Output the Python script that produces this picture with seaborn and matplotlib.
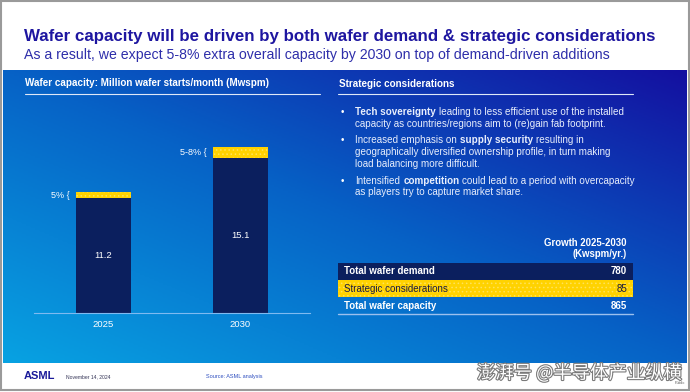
import numpy as np
import pandas as pd
import matplotlib
matplotlib.use('Agg')
import matplotlib.pyplot as plt
import seaborn as sns
from matplotlib.patches import Rectangle
from matplotlib.colors import LinearSegmentedColormap
import matplotlib.patheffects as pe

# data
years = ['2025', '2030']
demand = [11.2, 15.1]          # Mwspm, demand-driven
strategic = [0.56, 1.05]       # extra capacity from strategic considerations
strategic_labels = ['5%', '5-8%']

table_rows = ['Total wafer demand', 'Strategic considerations', 'Total wafer capacity']
table_values = [780, 85, 865]

# each bullet = list of lines, each line = list of (text, bold)
bullets = [
    [[('Tech sovereignty', True), ('leading to less efficient use of the installed', False)],
     [('capacity as countries/regions aim to (re)gain fab footprint.', False)]],
    [[('Increased emphasis on', False), ('supply security', True), ('resulting in', False)],
     [('geographically diversified ownership profile, in turn making', False)],
     [('load balancing more difficult.', False)]],
    [[('Intensified', False), ('competition', True), ('could lead to a period with overcapacity', False)],
     [('as players try to capture market share.', False)]],
]

sns.set_theme(style='white')
plt.rcParams['font.family'] = ['Liberation Sans', 'DejaVu Sans']
plt.rcParams['hatch.linewidth'] = 0.6

navy = '#0b1f5e'
yellow = '#ffd200'
title_col = '#1e16a0'

W, H = 690, 392
fig = plt.figure(figsize=(6.9, 3.92), dpi=100)
bg = fig.add_axes([0, 0, 1, 1])
bg.set_xlim(0, W)
bg.set_ylim(H, 0)
bg.axis('off')

# blue gradient panel
top, bot, left, right = 70, 363, 3, 687
xx, yy = np.meshgrid(np.linspace(0, 1, 300), np.linspace(1, 0, 150))
t = 0.5 * xx + 0.5 * yy
grad = LinearSegmentedColormap.from_list('g', ['#08a2e2', '#0662c6', '#1410a0'])
bg.imshow(t, cmap=grad, extent=(left, right, bot, top), aspect='auto', vmin=0, vmax=1, zorder=0)
bg.set_xlim(0, W)
bg.set_ylim(H, 0)

# header
bg.text(24, 36, 'Wafer capacity will be driven by both wafer demand & strategic considerations',
        fontsize=12.2, fontweight='bold', color=title_col, va='center')
bg.text(24, 55, 'As a result, we expect 5-8% extra overall capacity by 2030 on top of demand-driven additions',
        fontsize=10.2, color='#2e2eaa', va='center')

# panel headers
bg.text(25, 83, 'Wafer capacity: Million wafer starts/month (Mwspm)', fontsize=7.1,
        fontweight='bold', color='white', va='center')
bg.plot([25, 320], [94, 94], color='#dfe8f8', lw=0.8)
bg.text(339, 84, 'Strategic considerations', fontsize=7.1, fontweight='bold', color='white', va='center')
bg.plot([338, 633], [94, 94], color='#dfe8f8', lw=0.8)

# bullets with bold runs
r = fig.canvas.get_renderer()
fs = 7.1
gap = fs * 100 / 72 * 0.32
y = 115
for bl in bullets:
    bg.text(341, y, '•', fontsize=fs, color='white', va='baseline')
    for line in bl:
        x = 355
        for txt, bold in line:
            tt = bg.text(x, y, txt, fontsize=fs, color='#e8eefc', va='baseline',
                         fontweight='bold' if bold else 'normal')
            x += tt.get_window_extent(r).width + gap
        y += 11.7
    y += 5

# table
bg.text(627, 243, 'Growth 2025-2030', fontsize=6.9, fontweight='bold', color='white', ha='right', va='center')
bg.text(627, 254, '(Kwspm/yr.)', fontsize=6.9, fontweight='bold', color='white', ha='right', va='center')
bg.add_patch(Rectangle((338, 263), 295, 16.5, facecolor=navy, edgecolor='none'))
bg.add_patch(Rectangle((338, 280), 295, 17, facecolor=yellow, edgecolor='#ffe25a', lw=0, hatch='....'))
row_y = [271, 288.5, 306]
row_style = [('white', 'bold'), ('#1a1a40', 'normal'), ('white', 'bold')]
for (lab, val), ry, (c, w) in zip(zip(table_rows, table_values), row_y, row_style):
    bg.text(344, ry, lab, fontsize=7, color=c, fontweight=w, va='center')
    bg.text(627, ry, str(val), fontsize=7, color=c, fontweight='bold' if w == 'bold' else 'normal',
            ha='right', va='center')
bg.plot([338, 633], [314, 314], color='#9cc0ee', lw=1)

# footer
bg.text(24, 376, 'ASML', fontsize=8, fontweight='bold', color='#1a1a9a', va='center')
bg.text(66, 376.5, 'November 14, 2024', fontsize=3.6, color='#333355', va='center')
bg.text(206, 376.5, 'Source: ASML analysis', fontsize=4, color='#3050c0', va='center')
bg.text(477, 373, '澎湃号 @半导体产业纵横', fontsize=13.2, color='white', va='center',
        family=['Noto Sans CJK SC', 'DejaVu Sans'],
        path_effects=[pe.withStroke(linewidth=1.6, foreground='#7a7a7a')])
bg.text(675, 383, 'Public', fontsize=2.8, color='#555555', va='center')
bg.add_patch(Rectangle((1, 1), 688, 389, fill=False, edgecolor='#9a9a9a', lw=1.5))

# bar chart
ax = fig.add_axes([34 / W, (H - 313) / H, (310 - 34) / W, 213 / H])
ax.patch.set_alpha(0)
df = pd.DataFrame({'year': years, 'demand': demand, 'strategic': strategic})
df['total'] = df['demand'] + df['strategic']
sns.barplot(data=df, x='year', y='total', color=yellow, saturation=1, width=0.4,
            errorbar=None, ax=ax, edgecolor='#ffe25a', linewidth=0, hatch='....')
sns.barplot(data=df, x='year', y='demand', color=navy, saturation=1, width=0.4,
            errorbar=None, ax=ax, linewidth=0)
ax.set_xlim(-0.507, 1.507)
ax.set_ylim(0, 20.74)
for i, row in df.iterrows():
    ax.text(i, row['demand'] / 2, f"{row['demand']}", color='white', fontsize=6.8, ha='center', va='center')
    ax.text(i - 0.245, row['demand'] + row['strategic'] / 2, f'{strategic_labels[i]} {{',
            color='white', fontsize=6.5, ha='right', va='center')
ax.set_xlabel('')
ax.set_ylabel('')
ax.set_yticks([])
ax.tick_params(axis='x', length=0, pad=5, labelsize=6.8, labelcolor='white')
for s in ['top', 'right', 'left']:
    ax.spines[s].set_visible(False)
ax.spines['bottom'].set_color('#7fbaf0')
ax.spines['bottom'].set_linewidth(0.8)

fig.savefig('out.png', dpi=100)
